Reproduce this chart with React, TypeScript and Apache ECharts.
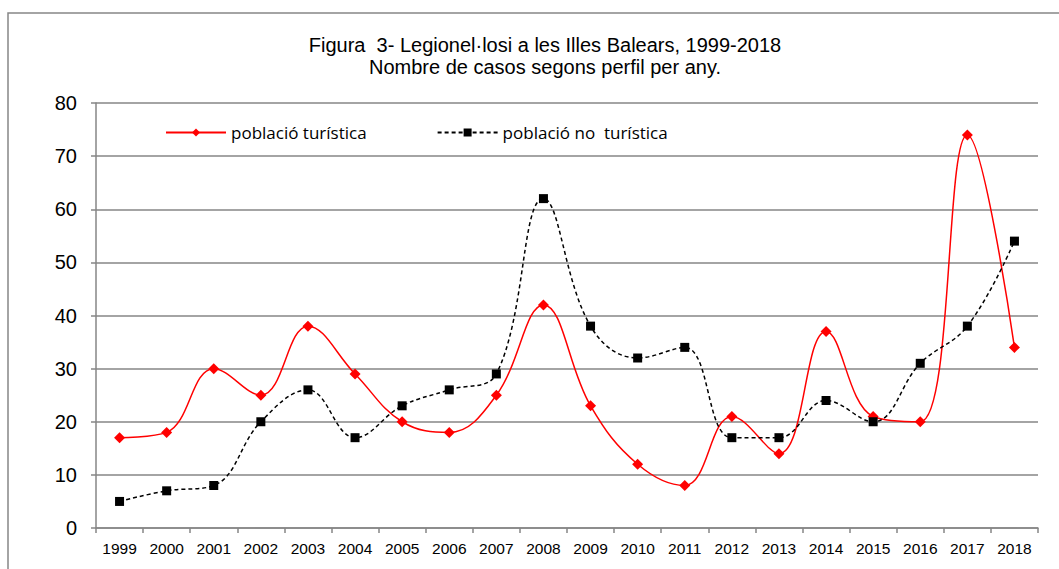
import React, { useEffect, useRef } from "react";
import * as echarts from "echarts";

const years = ["1999","2000","2001","2002","2003","2004","2005","2006","2007","2008","2009","2010","2011","2012","2013","2014","2015","2016","2017","2018"];
const turistica = [17, 18, 30, 25, 38, 29, 20, 18, 25, 42, 23, 12, 8, 21, 14, 37, 21, 20, 74, 34];
const noTuristica = [5, 7, 8, 20, 26, 17, 23, 26, 29, 62, 38, 32, 34, 17, 17, 24, 20, 31, 38, 54];

const titleLine1 = "Figura  3- Legionel·losi a les Illes Balears, 1999-2018";
const titleLine2 = "Nombre de casos segons perfil per any.";

export default function App() {
  const ref = useRef<HTMLDivElement>(null);
  useEffect(() => {
    if (!ref.current) return;
    const chart = echarts.init(ref.current, null, { renderer: "svg" });
    const gray = "#868686";
    chart.setOption({
      animation: false,
      backgroundColor: "#fff",
      textStyle: { fontFamily: "Liberation Sans, Arial, sans-serif" },
      title: {
        text: titleLine1 + "\n" + titleLine2,
        left: 540,
        textAlign: "center",
        top: 29,
        textStyle: { fontSize: 20, fontWeight: "normal", color: "#000", lineHeight: 22, fontFamily: "Liberation Sans, Arial, sans-serif" },
      },
      graphic: [
        {
          type: "rect",
          shape: { x: 8, y: 13, width: 1100, height: 600 },
          style: { fill: "none", stroke: gray, lineWidth: 1.5 },
          silent: true,
        },
      ],
      legend: {
        top: 119,
        left: 160,
        itemGap: 70,
        itemWidth: 60,
        itemHeight: 10,
        textStyle: { fontSize: 17, color: "#000", fontFamily: "Open Sans, sans-serif" },
        data: ["població turística", "població no  turística"],
      },
      grid: { left: 96, right: 21, top: 103, bottom: 41 },
      xAxis: {
        type: "category",
        data: years,
        boundaryGap: true,
        axisLine: { lineStyle: { color: gray, width: 1.5 } },
        axisTick: { show: true, length: 5, lineStyle: { color: gray, width: 1.5 } },
        axisLabel: { color: "#000", fontSize: 15.5, margin: 12, interval: 0 },
      },
      yAxis: {
        type: "value",
        min: 0,
        max: 80,
        interval: 10,
        axisLine: { show: true, lineStyle: { color: gray, width: 1.5 } },
        axisTick: { show: true, length: 5, lineStyle: { color: gray, width: 1.5 } },
        axisLabel: { color: "#000", fontSize: 20, margin: 19 },
        splitLine: { lineStyle: { color: gray, width: 1.5 } },
      },
      series: [
        {
          name: "població turística",
          type: "line",
          data: turistica,
          smooth: 0.4,
          symbol: "diamond",
          symbolSize: 11,
          itemStyle: { color: "#ff0000" },
          lineStyle: { color: "#ff0000", width: 1.5 },
        },
        {
          name: "població no  turística",
          type: "line",
          data: noTuristica,
          smooth: 0.4,
          symbol: "rect",
          symbolSize: 9,
          itemStyle: { color: "#000" },
          lineStyle: { color: "#000", width: 1.5, type: [4, 3] },
        },
      ],
    });
    return () => chart.dispose();
  }, []);
  return <div ref={ref} style={{ position: "absolute", left: 0, top: 0, width: 1059, height: 569 }} />;
}
